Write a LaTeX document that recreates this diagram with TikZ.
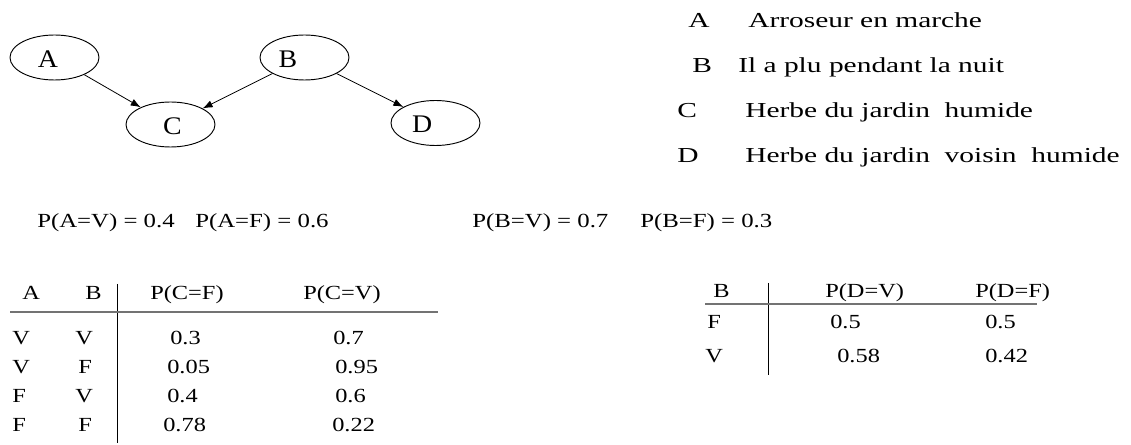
\documentclass[tikz,border=0pt]{standalone}
\usepackage{fontspec}
\setmainfont{Liberation Serif}
\newfontfamily\legfont[FakeStretch=1.38]{Liberation Serif}
\newfontfamily\probfont[FakeStretch=1.24]{Liberation Serif}
\newfontfamily\tabfont[FakeStretch=1.22]{Liberation Serif}
\newfontfamily\ellfont[FakeStretch=1.1]{Liberation Serif}
\usetikzlibrary{shapes.geometric,arrows.meta}
\begin{document}
\begin{tikzpicture}[x=0.75pt,y=-0.75pt,
  ell/.style={draw,ellipse,minimum width=66.75pt,minimum height=33.75pt,inner sep=0pt,line width=0.7pt},
  elltext/.style={font=\ellfont\fontsize{19}{22}\selectfont,inner sep=0pt},
  arr/.style={-{Latex[length=7.5pt,width=5.5pt]},line width=0.6pt},
  leg/.style={anchor=base west,inner sep=0pt,font=\legfont\fontsize{16}{19}\selectfont},
  prob/.style={anchor=base west,inner sep=0pt,font=\probfont\fontsize{15}{18}\selectfont},
  tab/.style={anchor=base west,inner sep=0pt,font=\tabfont\fontsize{15}{18}\selectfont},
  vrule/.style={line width=0.75pt},
  hrule/.style={line width=1.3pt,black!55}
]
\useasboundingbox (0,0) rectangle (1131,445);

% graph
\node[ell,label={[elltext,xshift=-5pt,yshift=-1pt]center:A}] (A) at (54.5,57.5) {};
\node[ell,label={[elltext,xshift=-12.5pt,yshift=-1pt]center:B}] (B) at (304.5,57.5) {};
\node[ell,label={[elltext,xshift=1.5pt,yshift=-1pt]center:C}] (C) at (170.5,124.5) {};
\node[ell,label={[elltext,xshift=-10pt,yshift=-1pt]center:D}] (D) at (435.5,123) {};
\draw[arr] (A) -- (C);
\draw[arr] (B) -- (C);
\draw[arr] (B) -- (D);

% legend
\node[leg] (la) at (688,28) {A};
\node[leg] (ta) at (748,28) {Arroseur en marche};
\node[leg] (lb) at (692,73) {B};
\node[leg] (tb) at (738,73) {Il a plu pendant la nuit};
\node[leg] (lc) at (677,118) {C};
\node[leg] (tc) at (745,118) {Herbe du jardin\ \ humide};
\node[leg] (ld) at (677,163) {D};
\node[leg] (td) at (745,163) {Herbe du jardin\ \ voisin\ \ humide};

% priors
\node[prob] (pav) at (37,228) {P(A=V) = 0.4};
\node[prob] (paf) at (195,228) {P(A=F) = 0.6};
\node[prob] (pbv) at (472,228) {P(B=V) = 0.7};
\node[prob] (pbf) at (640,228) {P(B=F) = 0.3};

% table C
\node[tab] (hA) at (22,299) {A};
\node[tab] (hB) at (85,299) {B};
\node[tab] (hCF) at (150,299) {P(C=F)};
\node[tab] (hCV) at (303,299) {P(C=V)};
\node[tab] (r1a) at (12,344) {V};
\node[tab] (r1b) at (75,344) {V};
\node[tab] (r1f) at (170,344) {0.3};
\node[tab] (r1v) at (333,344) {0.7};
\node[tab] (r2a) at (12,373) {V};
\node[tab] (r2b) at (78,373) {F};
\node[tab] (r2f) at (167,373) {0.05};
\node[tab] (r2v) at (335,373) {0.95};
\node[tab] (r3a) at (12,402) {F};
\node[tab] (r3b) at (75,402) {V};
\node[tab] (r3f) at (167,402) {0.4};
\node[tab] (r3v) at (335,402) {0.6};
\node[tab] (r4a) at (12,431) {F};
\node[tab] (r4b) at (78,431) {F};
\node[tab] (r4f) at (163,431) {0.78};
\node[tab] (r4v) at (332,431) {0.22};
\draw[vrule] (117,284) -- (117,443);
\draw[hrule] (10,312) -- (438,312);

% table D
\node[tab] (dB) at (713,297) {B};
\node[tab] (dDV) at (825,297) {P(D=V)};
\node[tab] (dDF) at (975,297) {P(D=F)};
\node[tab] (s1b) at (707,328) {F};
\node[tab] (s1v) at (830,328) {0.5};
\node[tab] (s1f) at (985,328) {0.5};
\node[tab] (s2b) at (705,362) {V};
\node[tab] (s2v) at (837,362) {0.58};
\node[tab] (s2f) at (985,362) {0.42};
\draw[vrule] (768,283) -- (768,375);
\draw[hrule] (705,304) -- (1037,304);
\end{tikzpicture}
\end{document}
